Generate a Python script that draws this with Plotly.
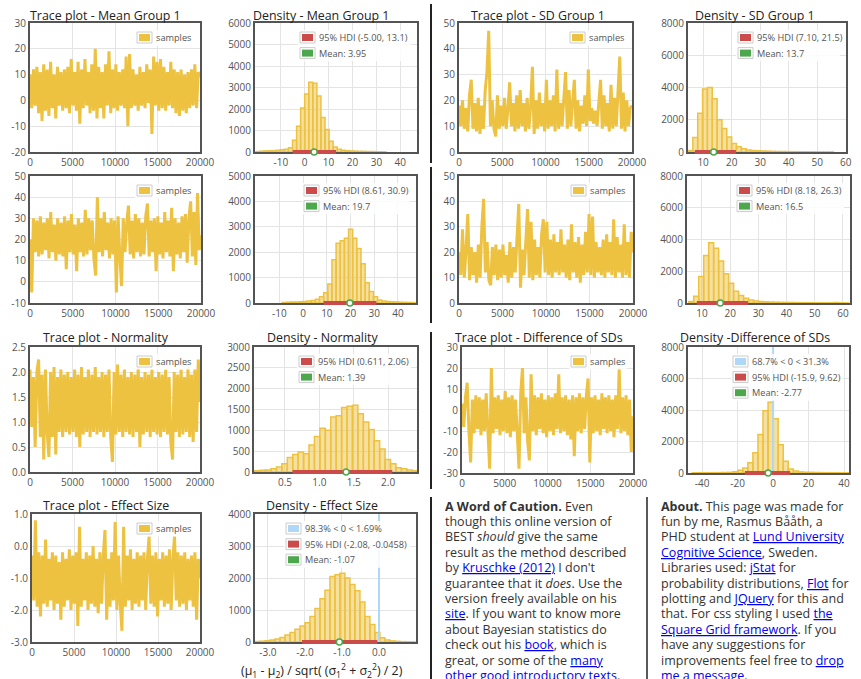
import numpy as np
import plotly.graph_objects as go

W, H = 861, 679

# ------------------------------------------------------------------ data
N_SAMPLES = 20000

trace_mean_g1 = [10, -3, 12, -2, 13, -5, 11, -8, 14, -4, 12, -6, 15, -3, 10, -7, 13, -2, 11, -4,
                 12, -3, 13, -5, 16, -2, 11, -4, 15, -9, 12, -3, 16, -2, 11, -5, 14, -4, 20, -7,
                 13, -3, 11, -7, 14, -2, 19, -5, 12, -3, 14, -4, 11, -2, 12, -3, 17, -10, 18, -3,
                 12, -2, 10, -4, 13, -2, 11, -3, 14, -1, 12, -13, 17, -2, 15, -4, 16, -3, 13, -4,
                 11, -2, 15, -3, 12, -5, 11, -6, 12, -4, 10, -5, 11, -3, 12, -2, 14, -3, 11, 9]

trace_mean_g2 = [20, -5, 30, 14, 29, 12, 31, 13, 28, 15, 30, 11, 33, 14, 27, 10, 30, 13, 28, 12,
                 31, 6, 29, 14, 32, 13, 27, 5, 30, 14, 28, 12, 34, 13, 30, 15, 29, 11, 3, 40,
                 14, 30, 12, 33, 15, 28, 11, 30, 13, 29, -5, 31, 12, -2, 30, 14, 28, 36, 13, 29,
                 11, 32, 14, 30, 12, 28, 13, 31, 37, 12, 29, 14, 30, 5, 31, 13, 28, 11, 33, 14,
                 29, 12, 35, 5, 30, 13, 28, 11, 31, 14, 32, 9, 30, 38, 12, 33, 8, 42, 15, 22]

trace_sd_g1 = [18, 10, 20, 9, 17, 8, 22, 28, 9, 19, 8, 21, 7, 18, 9, 24, 31, 47, 10, 20,
               9, 6, 22, 9, 18, 10, 21, 9, 17, 27, 10, 19, 8, 22, 9, 24, 10, 19, 8, 21,
               9, 18, 33, 7, 20, 9, 23, 10, 19, 8, 28, 9, 20, 10, 22, 8, 32, 9, 19, 10,
               21, 31, 9, 24, 10, 19, 28, 9, 20, 8, 18, 11, 22, 10, 32, 12, 17, 11, 16, 10,
               21, 28, 9, 22, 10, 19, 8, 26, 9, 21, 10, 24, 37, 9, 23, 8, 20, 10, 17, 18]

trace_sd_g2 = [20, 11, 29, 10, 21, 35, 9, 22, 11, 20, 8, 23, 10, 30, 41, 12, 24, 9, 7, 22,
               11, 23, 9, 21, 10, 23, 11, 19, 8, 24, 10, 22, 12, 26, 39, 6, 21, 11, 24, 37,
               10, 32, 9, 25, 11, 22, 10, 27, 33, 12, 32, 11, 25, 10, 27, 12, 24, 11, 29, 12,
               23, 10, 25, 9, 31, 12, 24, 10, 26, 8, 23, 11, 28, 12, 35, 11, 34, 10, 24, 12,
               22, 11, 25, 10, 27, 12, 24, 11, 33, 10, 26, 12, 23, 10, 31, 11, 24, 10, 28, 20]

trace_normality = [2.05, 0.9, 1.9, 0.5, 2.0, 2.25, 0.7, 1.95, 0.25, 2.05, 0.8, 0.3, 2.0, 0.7, 2.1, 0.35, 1.9, 0.8, 2.05, 0.7,
                   1.95, 0.8, 2.0, 0.75, 1.9, 0.8, 2.05, 0.7, 1.95, 0.5, 2.1, 0.75, 1.9, 0.8, 2.05, 0.7, 1.95, 0.8, 2.1, 0.75,
                   1.9, 0.8, 2.0, 0.7, 1.95, 0.8, 2.05, 0.7, 0.2, 2.0, 0.75, 2.15, 0.8, 1.95, 0.7, 2.05, 0.8, 1.9, 0.75, 2.0,
                   0.7, 1.95, 0.8, 2.1, 0.5, 1.9, 0.75, 2.0, 0.8, 1.95, 0.7, 2.05, 0.8, 1.9, 0.75, 2.0, 0.7, 1.95, 0.8, 2.05,
                   0.75, 1.9, 0.6, 0.25, 2.0, 0.8, 1.95, 0.7, 2.05, 0.75, 1.9, 0.8, 2.1, 0.7, 1.95, 0.6, 2.05, 0.8, 2.25, 1.4]

trace_diff_sd = [3, -8, 6, 13, -10, -25, 5, -11, 7, -9, 6, -12, 5, -10, 8, -13, -28, 20, -11, 6,
                 -9, 7, -12, 5, -10, 9, -11, 6, -13, 7, -10, 5, -12, -28, 8, 20, -11, 6, -15, -24,
                 17, -10, 7, -12, 6, -9, 8, -11, 5, -13, 7, -10, 6, -12, 8, -9, 17, -11, 6, -10,
                 7, -12, 5, -14, 7, -22, 6, -10, 8, -11, 6, -9, 7, 15, -25, 6, -11, 7, -10, 5,
                 -12, 8, -9, 6, -11, 7, -10, 5, -13, 7, -9, 20, -11, 6, -10, 7, -12, 5, -20, -3]

trace_effect_size = [-0.3, -1.7, 0.8, -1.9, -0.2, -2.2, -0.3, -1.8, 0.2, -1.9, -0.4, -1.7, -0.2, -2.0, -0.3, -1.8, -0.5, -2.3, -0.2, -1.9,
                     -0.4, -1.7, -0.1, -2.0, -0.3, -1.8, -0.2, -2.5, 0.6, -1.9, -0.4, -1.7, -0.2, -2.0, -0.3, -1.8, 0.0, -1.9, -0.4, -2.1,
                     -0.2, -1.8, -0.3, 0.5, -2.3, -0.4, -1.9, -0.2, -1.7, 0.75, -2.0, -0.3, -1.8, -2.65, 0.6, -1.9, -0.3, -1.7, -0.1, -2.0,
                     -0.4, -1.8, -0.2, -1.9, -0.3, -1.7, -0.2, -2.0, -0.4, 0.3, -1.8, -0.3, -1.9, -0.2, -2.2, -0.4, -1.7, -0.2, -1.9, -0.3,
                     -1.8, -0.1, -2.0, -0.4, 0.3, -1.7, -0.2, -1.9, -0.3, -1.8, -0.2, -2.0, -0.4, -1.7, -0.3, -1.9, -0.2, -2.3, -0.4, -1.0]

# histograms: first bin left edge, bin width, counts
hist_mean_g1_start, hist_mean_g1_width = -20.4, 1.7
hist_mean_g1 = [20, 40, 50, 60, 60, 80, 100, 130, 200, 550, 1200, 2050, 2700, 3250, 3200, 2600,
                1600, 1050, 500, 230, 130, 80, 60, 50, 40, 30, 30, 20, 20, 15, 10, 5]
hist_mean_g2_start, hist_mean_g2_width = -8.85, 1.75
hist_mean_g2 = [20, 30, 40, 40, 50, 60, 80, 100, 150, 250, 400, 750, 1700, 2350, 2450, 2550,
                2900, 2550, 2150, 1550, 800, 450, 250, 120, 80, 60, 50, 40, 30, 25, 20, 15]
hist_sd_g1_start, hist_sd_g1_width = 4.7, 1.7
hist_sd_g1 = [100, 900, 2400, 3900, 4000, 3300, 2000, 1450, 930, 530, 320, 200, 130, 100, 80,
              60, 50, 40, 30, 30, 25, 20, 20, 15, 15, 10, 10, 5, 5, 5]
hist_sd_g2_start, hist_sd_g2_width = 5.3, 1.77
hist_sd_g2 = [90, 430, 1670, 3000, 3800, 3450, 2650, 1850, 1240, 740, 480, 300, 190, 130, 100, 80,
              60, 50, 40, 35, 30, 25, 20, 15, 15, 10, 10, 10, 8, 30, 5, 5]
hist_normality_start, hist_normality_width = 0.06, 0.079
hist_normality = [30, 40, 50, 80, 120, 200, 350, 420, 480, 440, 650, 850, 1050, 1000, 1320, 1350,
                  1550, 1580, 1600, 1400, 1200, 1020, 750, 550, 300, 200, 100, 80, 50, 30]
hist_diff_sd_start, hist_diff_sd_width = -45.6, 2.85
hist_diff_sd = [15, 15, 15, 20, 20, 25, 30, 40, 80, 170, 320, 650, 1280, 2450, 3950, 4500,
                3450, 1800, 750, 250, 120, 70, 50, 40, 30, 25, 20, 15, 15, 10, 10]
hist_effect_start, hist_effect_width = -3.35, 0.135
hist_effect = [15, 25, 40, 60, 90, 140, 220, 300, 400, 500, 600, 800, 1050, 1350, 1620, 2050,
               2100, 2150, 2000, 1800, 1600, 1250, 800, 550, 300, 130, 60, 35, 20, 10, 10, 5]

means = {"mg1": 3.95, "mg2": 19.7, "sd1": 13.7, "sd2": 16.5, "norm": 1.39, "diff": -2.77, "es": -1.07}
hdis = {"mg1": (-5.00, 13.1), "mg2": (8.61, 30.9), "sd1": (7.10, 21.5), "sd2": (8.18, 26.3),
        "norm": (0.611, 2.06), "diff": (-15.9, 9.62), "es": (-2.08, -0.0458)}
below_above_zero = {"diff": (68.7, 31.3), "es": (98.3, 1.69)}

trace_xticks = [0, 5000, 10000, 15000, 20000]
yt_trace_mg1 = [-20, -10, 0, 10, 20, 30]
yt_trace_mg2 = [-10, 0, 10, 20, 30, 40, 50]
yt_trace_sd = [0, 10, 20, 30, 40, 50]
yt_trace_norm = [0.0, 0.5, 1.0, 1.5, 2.0, 2.5]
yt_trace_diff = [-30, -20, -10, 0, 10, 20, 30]
yt_trace_es = [-3.0, -2.0, -1.0, 0.0, 1.0]
xt_dens_mean = [-10, 0, 10, 20, 30, 40]
xt_dens_sd = [10, 20, 30, 40, 50, 60]
xt_dens_norm = [0.5, 1.0, 1.5, 2.0]
xt_dens_diff = [-40, -20, 0, 20, 40]
xt_dens_es = [-3.0, -2.0, -1.0, 0.0]
yt_dens_mg1 = [0, 1000, 2000, 3000, 4000, 5000, 6000]
yt_dens_mg2 = [0, 1000, 2000, 3000, 4000, 5000]
yt_dens_8000 = [0, 2000, 4000, 6000, 8000]
yt_dens_norm = [0, 500, 1000, 1500, 2000, 2500, 3000]
yt_dens_es = [0, 1000, 2000, 3000, 4000]

caution_lines = [
    "<b>A Word of Caution.</b> Even",
    "though this online version of",
    "BEST <i>should</i> give the same",
    "result as the method described",
    "by {L}Kruschke (2012){E} I don't",
    "guarantee that it <i>does</i>. Use the",
    "version freely available on his",
    "{L}site{E}. If you want to know more",
    "about Bayesian statistics do",
    "check out his {L}book{E}, which is",
    "great, or some of the {L}many{E}",
    "{L}other good introductory texts{E}.",
]
about_lines = [
    "<b>About.</b> This page was made for",
    "fun by me, Rasmus Bååth, a",
    "PHD student at {L}Lund University{E}",
    "{L}Cognitive Science{E}, Sweden.",
    "Libraries used: {L}jStat{E} for",
    "probability distributions, {L}Flot{E} for",
    "plotting and {L}JQuery{E} for this and",
    "that. For css styling I used {L}the{E}",
    "{L}Square Grid framework{E}. If you",
    "have any suggestions for",
    "improvements feel free to {L}drop{E}",
    "{L}me a message{E}.",
]

# ------------------------------------------------------------------ style
YELLOW = "#edc240"
RED = "#cb4b4b"
GREEN = "#4da74d"
BLUE = "#afd8f8"
FONT = "Open Sans"
TICKC = "#545454"


def px(x):
    return x / W


def py(y):
    return 1 - y / H


def lab(v, dec):
    return f"{v:.{dec}f}"


def sig3(v):
    return f"{v:#.3g}"


fig = go.Figure()
layout = dict(width=W, height=H, margin=dict(l=0, r=0, t=0, b=0, autoexpand=False),
              paper_bgcolor="white", plot_bgcolor="white", showlegend=False,
              barmode="overlay", shapes=[], annotations=[],
              font=dict(family=FONT, color="#333"))

axis_style = dict(showline=True, mirror=True, linecolor=TICKC, linewidth=2,
                  showgrid=True, gridcolor="#e4e4e4", gridwidth=1, zeroline=False,
                  ticks="", tickfont=dict(family=FONT, size=10, color=TICKC),
                  fixedrange=True, automargin=False)

# panel: (id, kind, box(x0,x1,y0,y1 px), xrange, xticks, xdec, yrange, yticks, ydec, key, legend swatch left px)
panels = [
    (1, "trace", (30, 200, 23, 152), [0, N_SAMPLES], trace_xticks, 0, [-20, 30], yt_trace_mg1, 0, "mg1", 137),
    (2, "dens", (255, 417, 23, 152), [-20.8, 47.0], xt_dens_mean, 0, [0, 6000], yt_dens_mg1, 0, "mg1", 300),
    (3, "trace", (459, 632, 23, 152), [0, N_SAMPLES], trace_xticks, 0, [0, 50], yt_trace_sd, 0, "sd1", 570),
    (4, "dens", (688, 846, 23, 152), [4.7, 60.1], xt_dens_sd, 0, [0, 8000], yt_dens_8000, 0, "sd1", 738),
    (5, "trace", (30, 201, 176, 303), [0, N_SAMPLES], trace_xticks, 0, [-10, 50], yt_trace_mg2, 0, "mg2", 137),
    (6, "dens", (255, 416, 176, 303), [-20.3, 47.6], xt_dens_mean, 0, [0, 5000], yt_dens_mg2, 0, "mg2", 304),
    (7, "trace", (459, 633, 176, 303), [0, N_SAMPLES], trace_xticks, 0, [0, 50], yt_trace_sd, 0, "sd2", 571),
    (8, "dens", (687, 850, 176, 303), [4.7, 62.5], xt_dens_sd, 0, [0, 8000], yt_dens_8000, 0, "sd2", 737),
    (9, "trace", (30, 200, 347, 472), [0, N_SAMPLES], trace_xticks, 0, [0, 2.5], yt_trace_norm, 1, "norm", 137),
    (10, "dens", (254, 417, 347, 472), [0.05, 2.42], xt_dens_norm, 1, [0, 3000], yt_dens_norm, 0, "norm", 299),
    (11, "trace", (462, 633, 347, 473), [0, N_SAMPLES], trace_xticks, 0, [-30, 30], yt_trace_diff, 0, "diff", 571),
    (12, "dens", (688, 849, 347, 473), [-48, 42.8], xt_dens_diff, 0, [0, 8000], yt_dens_8000, 0, "diff", 733),
    (13, "trace", (32, 200, 514, 642), [0, N_SAMPLES], trace_xticks, 0, [-3, 1], yt_trace_es, 1, "es", 137),
    (14, "dens", (255, 416, 514, 642), [-3.35, 1.0], xt_dens_es, 1, [0, 4000], yt_dens_es, 0, "es", 286),
]

trace_data = {"mg1": trace_mean_g1, "mg2": trace_mean_g2, "sd1": trace_sd_g1, "sd2": trace_sd_g2,
              "norm": trace_normality, "diff": trace_diff_sd, "es": trace_effect_size}
hist_data = {"mg1": (hist_mean_g1_start, hist_mean_g1_width, hist_mean_g1),
             "mg2": (hist_mean_g2_start, hist_mean_g2_width, hist_mean_g2),
             "sd1": (hist_sd_g1_start, hist_sd_g1_width, hist_sd_g1),
             "sd2": (hist_sd_g2_start, hist_sd_g2_width, hist_sd_g2),
             "norm": (hist_normality_start, hist_normality_width, hist_normality),
             "diff": (hist_diff_sd_start, hist_diff_sd_width, hist_diff_sd),
             "es": (hist_effect_start, hist_effect_width, hist_effect)}


def legend(entries, left, top, right):
    row = 15.6
    n = len(entries)
    layout["shapes"].append(dict(type="rect", xref="paper", yref="paper",
                                 x0=px(left - 2), x1=px(right), y0=py(top + n * row - 2), y1=py(top - 2),
                                 fillcolor="rgba(255,255,255,0.85)", line=dict(width=0), layer="above"))
    for k, (col, txt) in enumerate(entries):
        t = top + k * row
        layout["shapes"].append(dict(type="rect", xref="paper", yref="paper",
                                     x0=px(left), x1=px(left + 15), y0=py(t + 11), y1=py(t),
                                     fillcolor="white", line=dict(color="#cccccc", width=1), layer="above"))
        layout["shapes"].append(dict(type="rect", xref="paper", yref="paper",
                                     x0=px(left + 2), x1=px(left + 13), y0=py(t + 9), y1=py(t + 2),
                                     fillcolor=col, line=dict(width=0), layer="above"))
        layout["annotations"].append(dict(xref="paper", yref="paper", x=px(left + 17), y=py(t + 5.5),
                                          xanchor="left", yanchor="middle", showarrow=False, text=txt,
                                          font=dict(family=FONT, size=9.2, color=TICKC)))


for (i, kind, box, xr, xt, xdec, yr, yt, ydec, key, sw_left) in panels:
    x0, x1, y0, y1 = box
    sfx = "" if i == 1 else str(i)
    layout["xaxis" + sfx] = dict(domain=[px(x0), px(x1)], range=xr, tickvals=xt,
                                 ticktext=[lab(v, xdec) for v in xt], anchor="y" + sfx, **axis_style)
    layout["yaxis" + sfx] = dict(domain=[py(y1), py(y0)], range=yr, tickvals=yt,
                                 ticktext=[lab(v, ydec) for v in yt], anchor="x" + sfx, **axis_style)
    if kind == "trace":
        vals = trace_data[key]
        fig.add_trace(go.Scatter(x=np.linspace(0, N_SAMPLES, len(vals)), y=vals, mode="lines",
                                 line=dict(color=YELLOW, width=3), xaxis="x" + sfx, yaxis="y" + sfx))
        legend([(YELLOW, "samples")], sw_left, y0 + 9, x1 - 6)
    else:
        start, bw, counts = hist_data[key]
        centers = start + bw * (np.arange(len(counts)) + 0.5)
        fig.add_trace(go.Bar(x=centers, y=counts, width=bw, xaxis="x" + sfx, yaxis="y" + sfx,
                             marker=dict(color="rgba(237,194,64,0.5)", line=dict(color=YELLOW, width=1.5))))
        entries = []
        if key in below_above_zero:
            lo_pct, hi_pct = below_above_zero[key]
            layout["shapes"].append(dict(type="line", xref="x" + sfx, yref="y" + sfx + " domain",
                                         x0=0, x1=0, y0=0, y1=1, line=dict(color=BLUE, width=2), layer="above"))
            entries.append((BLUE, f"{sig3(lo_pct)}% &lt; 0 &lt; {sig3(hi_pct)}%"))
        lo, hi = hdis[key]
        layout["shapes"].append(dict(type="line", xref="x" + sfx, yref="y" + sfx + " domain",
                                     x0=lo, x1=hi, y0=0, y1=0, line=dict(color=RED, width=4), layer="above"))
        m = means[key]
        layout["shapes"].append(dict(type="circle", xref="x" + sfx, yref="y" + sfx + " domain",
                                     xsizemode="pixel", ysizemode="pixel", xanchor=m, yanchor=0,
                                     x0=-3, x1=3, y0=-3, y1=3, fillcolor="white",
                                     line=dict(color=GREEN, width=1.5), layer="above"))
        entries.append((RED, f"95% HDI ({sig3(lo)}, {sig3(hi)})"))
        entries.append((GREEN, f"Mean: {sig3(m)}"))
        legend(entries, sw_left, y0 + 9, x1 - 6)

# titles
titles = [
    ("Trace plot - Mean Group 1", 105, 15), ("Density - Mean Group 1", 321, 15),
    ("Trace plot - SD Group 1", 538, 15), ("Density - SD Group 1", 755, 15),
    ("Trace plot - Normality", 106, 337), ("Density - Normality", 323, 337),
    ("Trace plot - Difference of SDs", 539, 337), ("Density -Difference of SDs", 755, 337),
    ("Trace plot - Effect Size", 106, 505), ("Density - Effect Size", 322, 505),
]
for txt, cx, cy in titles:
    layout["annotations"].append(dict(xref="paper", yref="paper", x=px(cx), y=py(cy), xanchor="center",
                                      yanchor="middle", showarrow=False, text=txt,
                                      font=dict(family=FONT, size=12.4, color="#222")))

layout["annotations"].append(dict(
    xref="paper", yref="paper", x=px(322), y=py(671), xanchor="center", yanchor="middle", showarrow=False,
    text="(μ<sub>1</sub> - μ<sub>2</sub>) / sqrt( (σ<sub>1</sub><sup>2</sup> + σ<sub>2</sub><sup>2</sup>) / 2)",
    font=dict(family=FONT, size=12.4, color="#222")))

# dividers
for (xx, ya, yb, wdt) in [(431, 4, 163, 2), (431, 167, 323, 2), (431, 332, 489, 2), (431, 497, 679, 2),
                         (647, 497, 679, 1.5)]:
    layout["shapes"].append(dict(type="line", xref="paper", yref="paper", x0=px(xx), x1=px(xx),
                                 y0=py(ya), y1=py(yb), line=dict(color="#222", width=wdt)))

# text paragraphs
LINK_OPEN = '<a href="#" style="color:#0000ee;text-decoration:underline">'
for col_x, lines in [(443, caution_lines), (659, about_lines)]:
    for k, ln in enumerate(lines):
        layout["annotations"].append(dict(
            xref="paper", yref="paper", x=px(col_x), y=py(506 + 15.4 * k), xanchor="left", yanchor="middle",
            showarrow=False, text=ln.replace("{L}", LINK_OPEN).replace("{E}", "</a>"),
            font=dict(family=FONT, size=12.5, color="#333")))

fig.update_layout(**layout)
fig.write_html("out.html")
